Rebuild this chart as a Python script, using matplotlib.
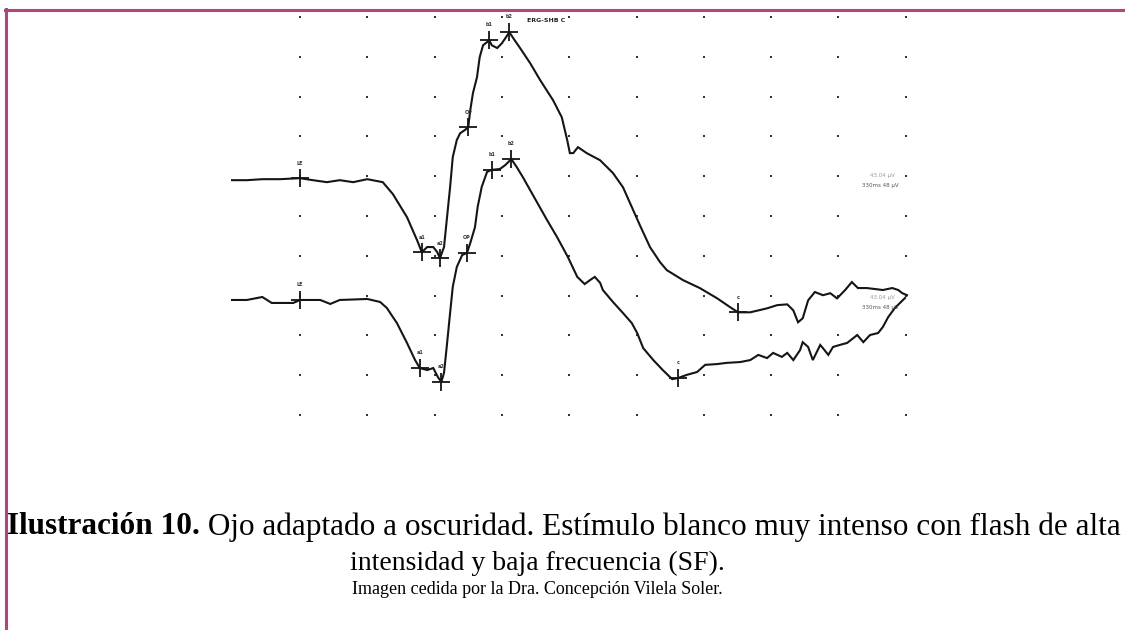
import numpy as np
import matplotlib
matplotlib.use("Agg")
import matplotlib.pyplot as plt
from matplotlib.lines import Line2D

# ---------------- data (time in ms, amplitude in µV relative to each trace baseline) -------------
top_t = [-10.1, -7.9, -5.6, -3.0, 0, 1.9, 4.0, 5.9, 7.9, 10.0,
         12.3, 13.8, 15.9, 17.4, 18.1, 18.9, 19.8, 20.4, 20.8, 21.4,
         21.8, 22.3, 22.7, 23.3, 23.8, 24.5, 25.0, 25.3, 25.7, 26.3,
         26.7, 27.2, 27.8, 28.1, 28.5, 29.3, 30.0, 30.8, 31.1, 31.6,
         32.7, 34.2, 35.7, 37.6, 38.9, 39.7, 40.1, 40.6, 41.3, 42.6,
         44.6, 46.5, 48.0, 49.5, 50.5, 52.0, 53.5, 54.5, 56.9, 59.4,
         62.0, 63.9, 65.1, 66.9, 69.4, 70.9, 72.4, 73.3, 74.0, 74.7,
         75.5, 76.5, 77.7, 78.8, 79.8, 81.0, 82.0, 82.9, 84.2, 85.7,
         86.6, 88.0, 88.9, 89.5, 90.2]
top_v = [0, 0, 2.5, 2.5, 5, 0, -5, 0, -5, 2.5,
         -5, -35, -93, -151, -181, -168, -168, -181, -196, -168,
         -101, -18, 58, 101, 118, 126, 133, 176, 219, 259,
         309, 339, 347, 352, 339, 332, 344, 364, 372, 359,
         332, 294, 251, 201, 158, 101, 68, 68, 83, 68,
         50, 18, -18, -75, -113, -168, -206, -226, -251, -271,
         -297, -319, -332, -332, -322, -314, -312, -327, -357, -347,
         -302, -281, -289, -284, -297, -276, -256, -271, -271, -274,
         -276, -271, -276, -284, -289]

bot_t = [-10.1, -7.9, -5.6, -4.2, -1.0, 0, 3.0, 4.5, 5.9, 10.0,
         11.9, 12.9, 14.4, 15.9, 17.1, 17.8, 18.9, 19.8, 20.5, 21.0,
         21.4, 21.8, 22.3, 22.7, 23.3, 24.1, 24.8, 25.3, 26.0, 26.4,
         27.0, 27.8, 28.5, 29.7, 30.5, 31.4, 32.2, 33.1, 34.6, 36.7,
         38.2, 39.8, 41.2, 42.3, 43.1, 43.8, 44.6, 45.0, 46.5, 48.0,
         49.3, 50.1, 51.0, 52.5, 53.9, 55.3, 56.2, 57.5, 59.0, 60.2,
         62.0, 63.4, 65.4, 66.9, 68.1, 69.4, 70.3, 71.6, 72.4, 73.3,
         74.3, 74.7, 75.5, 76.2, 77.3, 77.7, 78.5, 79.2, 80.2, 81.3,
         82.8, 83.7, 84.7, 85.9, 86.6, 87.4, 88.4, 89.9]
bot_v = [0, 0, 7.5, -7.5, -7.5, 0, 0, -10, 0, 2.5,
         -5, -20, -58, -108, -151, -171, -176, -171, -194, -206,
         -183, -118, -33, 33, 83, 113, 118, 143, 183, 234,
         284, 322, 327, 329, 339, 354, 334, 309, 264, 201,
         158, 108, 58, 40, 50, 58, 43, 25, -5, -33,
         -58, -83, -121, -151, -176, -199, -196, -188, -181, -163,
         -161, -158, -156, -151, -138, -146, -133, -143, -133, -151,
         -126, -106, -118, -151, -113, -121, -138, -118, -113, -108,
         -88, -106, -88, -83, -68, -43, -20, 5]

top_marks_t = [0, 18.1, 20.8, 25.0, 28.1, 31.1, 65.1]
top_marks_lbl = ["LE", "a1", "a2", "OP", "b1", "b2", "c"]
bot_marks_t = [0, 17.8, 21.0, 24.8, 28.5, 31.4, 56.2]
bot_marks_lbl = ["LE", "a1", "a2", "OP", "b1", "b2", "c"]

grid_t = [0, 10, 20, 30, 40, 50, 60, 70, 80, 90]
grid_v = [500, 400, 300, 200, 100, 0, -100, -200, -300, -400, -500]

top_info = ["43.04 µV", "330ms 48 µV"]
bot_info = ["43.04 µV", "330ms 48 µV"]
header = "ERG-SHB C"

caption_bold = "Ilustración 10."
caption_1 = " Ojo adaptado a oscuridad. Estímulo blanco muy intenso con flash de alta"
caption_2 = "intensidad y baja frecuencia (SF)."
caption_3 = "Imagen cedida por la Dra. Concepción Vilela Soler."

# ---------------- layout ----------------
W, H = 1125, 630
fig = plt.figure(figsize=(W / 100, H / 100), dpi=100)
fig.patch.set_facecolor("white")
ax = fig.add_axes([0, 0, 1, 1])
PX_PER_MS = 6.73
PX_PER_UV = 0.398
X0, Y0 = 300, 216
ax.set_xlim((0 - X0) / PX_PER_MS, (W - X0) / PX_PER_MS)
ax.set_ylim((Y0 - H) / PX_PER_UV, (Y0 - 0) / PX_PER_UV)
ax.axis("off")

OFF_TOP = 90
OFF_BOT = -211
LINE_C = "#151515"

# grid dots
gx, gy = np.meshgrid(grid_t, grid_v)
ax.plot(gx.ravel(), gy.ravel(), ls="none", marker="s", ms=2.0, color="#333333", mew=0)

tt = np.array(top_t); tv = np.array(top_v) + OFF_TOP
bt = np.array(bot_t); bv = np.array(bot_v) + OFF_BOT
ax.plot(tt, tv, color=LINE_C, lw=1.5, solid_joinstyle="miter")
ax.plot(bt, bv, color=LINE_C, lw=1.5, solid_joinstyle="miter")

for mts, lbls, t_arr, v_arr in [(top_marks_t, top_marks_lbl, tt, tv),
                                (bot_marks_t, bot_marks_lbl, bt, bv)]:
    my = np.interp(mts, t_arr, v_arr)
    ax.plot(mts, my, ls="none", marker="+", ms=13, mew=1.3, color=LINE_C)
    for mt, yy, lb in zip(mts, my, lbls):
        ax.text(mt, yy + 38, lb, fontsize=3.5, ha="center", va="center",
                color="#333333", fontweight="bold")

ax.text(36.5, (Y0 - 21) / PX_PER_UV, header, fontsize=4.5, fontweight="bold",
        ha="center", va="center", color="#222222")

for info, base in [(top_info, 176), (bot_info, 297)]:
    ax.text((882 - X0) / PX_PER_MS, (Y0 - base) / PX_PER_UV, info[0], fontsize=4,
            ha="center", va="center", color="#999999")
    ax.text((880 - X0) / PX_PER_MS, (Y0 - base - 10) / PX_PER_UV, info[1], fontsize=4,
            ha="center", va="center", color="#555555")

# border
BC = "#b2457d"
fig.add_artist(Line2D([5 / W, 1.0], [1 - 9.5 / H, 1 - 9.5 / H], color=BC, lw=2.2,
                      transform=fig.transFigure))
fig.add_artist(Line2D([5.5 / W, 5.5 / W], [1 - 8.5 / H, 0], color=BC, lw=2.2,
                      transform=fig.transFigure))

# caption
serif = ["Liberation Serif", "DejaVu Serif"]
t1 = fig.text(7 / W, 1 - 527 / H, caption_bold, fontsize=22.5, fontweight="bold",
              family=serif, ha="left", va="center")
fig.canvas.draw()
bb = t1.get_window_extent(renderer=fig.canvas.get_renderer())
fig.text(bb.x1 / W, 1 - 527 / H, caption_1, fontsize=22.5, family=serif,
         ha="left", va="center")
fig.text(537 / W, 1 - 563 / H, caption_2, fontsize=20, family=serif,
         ha="center", va="center")
fig.text(537 / W, 1 - 590 / H, caption_3, fontsize=13, family=serif,
         ha="center", va="center")

fig.savefig("out.png", dpi=100, facecolor="white")
